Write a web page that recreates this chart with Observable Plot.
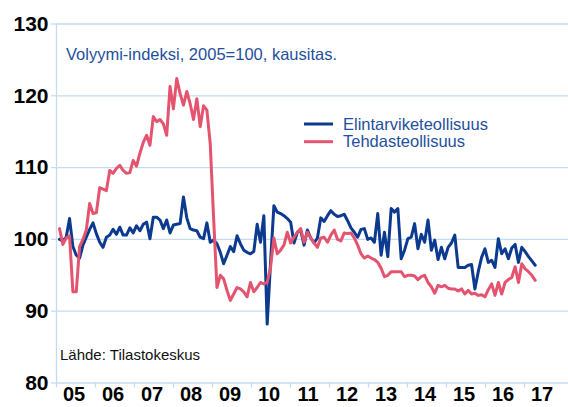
<!DOCTYPE html>
<html><head><meta charset="utf-8">
<script src="https://cdn.jsdelivr.net/npm/d3@7"></script>
<script src="https://cdn.jsdelivr.net/npm/@observablehq/plot@0.6"></script>
<style>
body{margin:0;background:#fff;font-family:"Liberation Sans",Arial,sans-serif;}
#wrap{position:relative;width:568px;height:407px;overflow:hidden;}
.ann{position:absolute;white-space:nowrap;line-height:1;}
</style></head><body><div id="wrap"></div>
<script>
// Tick labels and positions (axis in year units)
const yearTicks = [2005,2006,2007,2008,2009,2010,2011,2012,2013,2014,2015,2016,2017];
const yearLabels = ["05","06","07","08","09","10","11","12","13","14","15","16","17"];
const yTicks = [80,90,100,110,120,130];

// Series (monthly, volume index 2005=100, seasonally adjusted)
const seriesNames = ["Elintarviketeollisuus","Tehdasteollisuus"];
const seriesColors = ["#0b3a8e","#e4546f"];
const elintarvike = [
100.0,99.8,100.3,102.9,99.0,97.8,97.4,99.2,100.3,101.4,102.3,100.8,
99.6,98.9,100.3,100.6,101.4,100.7,101.7,100.6,100.6,101.6,100.9,101.9,
101.2,102.1,102.4,100.1,103.1,103.1,102.7,101.5,102.7,100.9,102.0,102.1,
102.2,105.9,103.0,101.5,101.3,101.2,100.3,100.1,102.3,99.6,99.9,99.4,
98.2,96.6,97.8,99.0,98.3,100.5,99.4,98.5,98.2,98.0,98.3,102.1,
99.6,103.3,88.2,96.8,104.7,103.8,103.6,103.3,102.9,102.4,99.5,101.0,
101.3,99.2,101.3,100.2,99.5,100.2,103.0,102.5,103.3,104.0,103.5,103.2,
103.3,103.5,102.6,101.6,101.0,100.3,101.4,101.5,100.0,100.2,99.6,103.6,
97.8,101.0,97.6,104.3,103.8,104.3,97.3,98.5,100.1,100.3,102.2,98.7,
100.7,99.6,102.7,98.5,99.9,97.2,98.9,97.3,98.9,99.5,100.6,96.1,
96.1,96.1,96.4,96.5,93.1,95.5,97.5,98.7,96.8,97.1,96.1,100.1,
98.0,98.7,97.3,98.8,99.3,96.8,98.9,98.3,97.6,97.0,96.4
];
const tehdas = [
101.5,99.3,100.2,100.5,92.7,92.7,99.0,100.0,101.3,105.0,103.6,103.7,
107.2,107.0,106.8,109.6,109.2,109.9,110.3,109.6,109.2,109.3,111.0,110.2,
112.0,113.5,114.5,113.1,117.1,116.4,116.7,116.1,114.5,121.3,118.2,122.4,
120.3,118.7,120.6,118.9,116.7,119.6,115.7,118.6,118.0,113.3,103.0,93.3,
95.0,94.5,92.9,91.5,92.4,93.3,93.1,92.7,92.0,94.0,92.7,93.3,
94.0,93.8,94.0,96.1,100.2,98.0,98.5,99.2,101.0,99.5,100.3,101.0,
101.5,99.6,101.0,100.2,99.5,98.9,100.2,100.3,99.6,100.6,101.3,100.0,
99.8,100.9,100.8,100.9,100.2,99.2,98.0,97.4,97.7,97.4,97.2,96.8,
96.0,94.8,95.0,95.5,95.5,95.5,95.5,94.8,95.0,95.0,94.9,94.4,
94.8,95.0,94.0,93.4,92.5,93.6,93.4,93.6,93.2,93.1,93.1,92.8,
93.1,92.4,92.9,92.4,92.5,92.2,92.3,92.0,93.0,93.8,92.2,94.0,
92.4,94.0,94.4,94.7,96.2,94.0,96.6,95.9,95.5,95.0,94.3
];

// the original chart's month spacing differs slightly from its year ticks
const yearPx = 39;
const firstPos = 2005 + 3 / yearPx;
const monthStep = 3.35 / yearPx;

const rows = [];
[elintarvike, tehdas].forEach((arr, s) => arr.forEach((v, i) => rows.push({series: seriesNames[s], x: firstPos + i * monthStep, v})));

const W = 568, H = 407;
const gridColor = "#c7dbef";
const chart = Plot.plot({
  width: W, height: H,
  marginLeft: 56, marginRight: 0, marginTop: 23.5, marginBottom: 24.5,
  style: {fontFamily: "'Liberation Sans', Arial, sans-serif", background: "white", overflow: "visible"},
  x: {type: "linear", domain: [2005, 2005 + (W - 56) / yearPx], axis: null},
  y: {domain: [80, 130], axis: null},
  color: {domain: seriesNames, range: seriesColors},
  marks: [
    Plot.gridY(yTicks, {stroke: gridColor, strokeOpacity: 1, strokeWidth: 1.3}),
    Plot.ruleX([2005], {stroke: gridColor, strokeOpacity: 1, strokeWidth: 1.3}),
    Plot.axisY(yTicks, {label: null, tickSize: 5, tickPadding: 3, stroke: gridColor, strokeWidth: 1.3, fontSize: 21, fontWeight: "bold", fill: "black"}),
    Plot.axisX(yearTicks, {label: null, tickSize: 5, stroke: gridColor, strokeWidth: 1.3, tickFormat: () => ""}),
    Plot.axisX(yearTicks.map(y => y + 0.45), {label: null, tickSize: 0, tickPadding: 4, fontSize: 20, fontWeight: "bold", fill: "black",
      tickFormat: (d) => yearLabels[yearTicks.indexOf(Math.floor(d))]}),
    Plot.line(rows, {x: "x", y: "v", z: "series", stroke: "series", strokeWidth: 3, strokeLinejoin: "round", strokeLinecap: "round"})
  ]
});
const wrap = document.getElementById("wrap");
wrap.appendChild(chart);

function addText(txt, left, top, size, color) {
  const d = document.createElement("div");
  d.className = "ann";
  d.textContent = txt;
  Object.assign(d.style, {left: left + "px", top: top + "px", fontSize: size + "px", color});
  wrap.appendChild(d);
  return d;
}
addText("Volyymi-indeksi, 2005=100, kausitas.", 66, 45.5, 16.5, "#1f4f9d");
addText("Lähde: Tilastokeskus", 60, 346.5, 15, "#111");

// legend
const ns = "http://www.w3.org/2000/svg";
const lsvg = document.createElementNS(ns, "svg");
lsvg.setAttribute("width", 40); lsvg.setAttribute("height", 40);
Object.assign(lsvg.style, {position: "absolute", left: "300px", top: "115px"});
seriesNames.forEach((n, k) => {
  const l = document.createElementNS(ns, "line");
  l.setAttribute("x1", 4); l.setAttribute("x2", 33);
  l.setAttribute("y1", 9 + k * 17.7); l.setAttribute("y2", 9 + k * 17.7);
  l.setAttribute("stroke", seriesColors[k]); l.setAttribute("stroke-width", 3);
  lsvg.appendChild(l);
  addText(n, 343, 115.5 + k * 17.7, 16.5, "#1f4f9d");
});
wrap.appendChild(lsvg);
</script></body></html>
